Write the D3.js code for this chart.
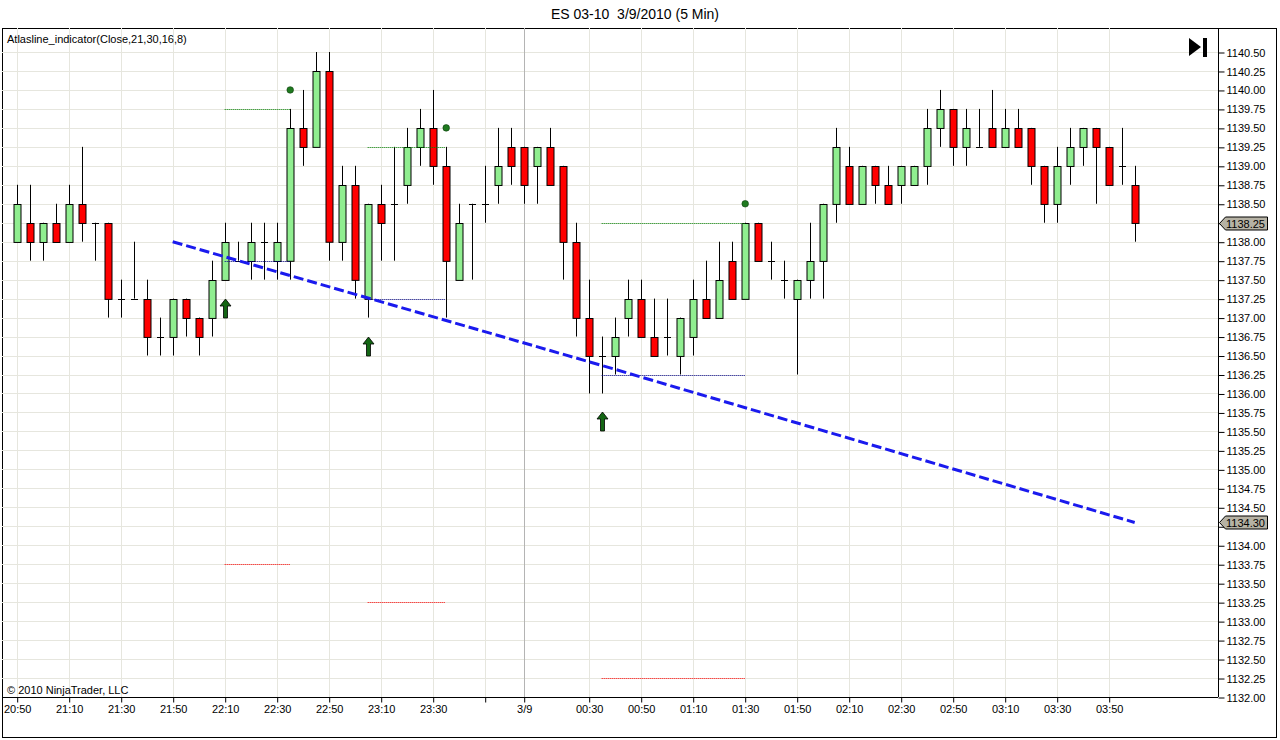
<!DOCTYPE html>
<html>
<head>
<meta charset="utf-8">
<script src="https://cdn.jsdelivr.net/npm/d3@7.9.0/dist/d3.min.js"></script>
<style>
  body { margin: 0; background: #fff; }
  svg { display: block; font-family: "Liberation Sans", Arial, sans-serif; }
  .tick text { font-size: 11px; fill: #000; }
</style>
</head>
<body>
<svg id="chart" width="1280" height="740"></svg>
<script>
// ES 03-10, 5 min bars from 3/8 20:50 to 3/9 04:00
const opens = [
  1138.00,1138.25,1138.00,1138.25,1138.00,1138.50,1138.25,1138.25,1137.25,1137.25,
  1137.25,1136.75,1136.75,1137.25,1137.00,1137.00,1137.50,1137.75,1137.75,1138.00,
  1137.75,1137.75,1139.50,1139.25,1140.25,1138.00,1138.75,1137.25,1138.50,1138.50,
  1138.75,1139.25,1139.50,1139.00,1137.50,1138.50,1138.50,1138.75,1139.25,1139.25,
  1139.00,1139.25,1139.00,1138.00,1137.00,1136.50,1136.50,1137.00,1137.25,1136.75,
  1136.75,1136.50,1136.75,1137.25,1137.00,1137.75,1137.25,1138.25,1137.75,1137.50,
  1137.25,1137.50,1137.75,1138.50,1139.00,1138.50,1139.00,1138.75,1138.75,1138.75,
  1139.00,1139.50,1139.75,1139.25,1139.25,1139.50,1139.25,1139.50,1139.50,1139.00,
  1138.50,1139.00,1139.25,1139.50,1139.25,1139.00,1138.75
];
const highs = [
  1138.75,1138.75,1138.25,1138.50,1138.75,1139.25,1138.25,1138.25,1137.50,1138.00,
  1137.50,1137.00,1137.25,1137.25,1137.00,1137.75,1138.25,1138.00,1138.25,1138.25,
  1138.25,1139.75,1140.00,1140.50,1140.50,1139.00,1139.00,1138.50,1138.75,1139.25,
  1139.50,1139.75,1140.00,1139.25,1138.50,1138.50,1139.00,1139.50,1139.50,1139.25,
  1139.25,1139.50,1139.00,1138.25,1137.50,1136.75,1137.00,1137.50,1137.50,1137.25,
  1137.25,1137.00,1137.50,1137.75,1138.00,1138.00,1138.25,1138.25,1138.00,1137.75,
  1137.50,1138.25,1138.50,1139.50,1139.25,1139.00,1139.00,1139.00,1139.00,1139.00,
  1139.75,1140.00,1139.75,1139.75,1139.75,1140.00,1139.75,1139.75,1139.50,1139.00,
  1139.25,1139.50,1139.50,1139.50,1139.25,1139.50,1139.00
];
const lows = [
  1138.00,1137.75,1137.75,1138.00,1138.00,1138.00,1137.75,1137.00,1137.00,1137.25,
  1136.50,1136.50,1136.50,1136.75,1136.50,1136.75,1137.50,1137.75,1137.50,1137.50,
  1137.50,1137.50,1139.00,1139.25,1137.75,1137.75,1137.25,1137.00,1137.75,1137.75,
  1138.50,1139.00,1138.75,1137.00,1137.50,1137.50,1138.25,1138.50,1138.75,1138.50,
  1138.50,1138.75,1137.50,1136.75,1136.00,1136.00,1136.25,1136.75,1136.75,1136.50,
  1136.50,1136.25,1136.50,1137.00,1137.00,1137.25,1137.25,1137.75,1137.50,1137.25,
  1136.25,1137.25,1137.25,1138.25,1138.50,1138.50,1138.50,1138.50,1138.50,1138.75,
  1138.75,1139.25,1139.00,1139.00,1139.25,1139.25,1139.25,1139.25,1138.75,1138.25,
  1138.25,1138.75,1139.00,1138.50,1138.75,1138.75,1138.00
];
const closes = [
  1138.50,1138.00,1138.25,1138.00,1138.50,1138.25,1138.25,1137.25,1137.25,1137.25,
  1136.75,1136.75,1137.25,1137.00,1136.75,1137.50,1138.00,1137.75,1138.00,1138.00,
  1138.00,1139.50,1139.25,1140.25,1138.00,1138.75,1137.50,1138.50,1138.25,1138.50,
  1139.25,1139.50,1139.00,1137.75,1138.25,1138.50,1138.50,1139.00,1139.00,1138.75,
  1139.25,1138.75,1138.00,1137.00,1136.50,1136.50,1136.75,1137.25,1136.75,1136.50,
  1136.75,1137.00,1137.25,1137.00,1137.50,1137.25,1138.25,1137.75,1137.75,1137.50,
  1137.50,1137.75,1138.50,1139.25,1138.50,1139.00,1138.75,1138.50,1139.00,1139.00,
  1139.50,1139.75,1139.25,1139.50,1139.25,1139.25,1139.50,1139.25,1139.00,1138.50,
  1139.00,1139.25,1139.50,1139.25,1138.75,1139.00,1138.25
];

// bar times (5 min)
const times = d3.timeMinute.every(5)
  .range(new Date(2010, 2, 8, 20, 50), new Date(2010, 2, 9, 4, 1))
  .map(d3.timeFormat("%H:%M"));

// x axis ticks
const tickTimes = ["20:50","21:10","21:30","21:50","22:10","22:30","22:50","23:10","23:30","23:50",
  "00:05","00:30","00:50","01:10","01:30","01:50","02:10","02:30","02:50","03:10","03:30","03:50"];
const tickLabels = ["20:50","21:10","21:30","21:50","22:10","22:30","22:50","23:10","23:30","",
  "3/9","00:30","00:50","01:10","01:30","01:50","02:10","02:30","02:50","03:10","03:30","03:50"];
const sessionBreak = "00:05";

// Atlasline indicator signals
const signalStart = ["22:10", "23:05", "00:35"];
const signalEnd = ["22:35", "23:35", "01:30"];
const upperLevels = [1139.75, 1139.25, 1138.25];
const midLevels = [1137.75, 1137.25, 1136.25];
const lowerLevels = [1133.75, 1133.25, 1132.25];
const arrowPrices = [1137.25, 1136.75, 1135.75];
const dotPrices = [1140.00, 1139.50, 1138.50];

// blue trend line
const trendTimes = ["21:50", "00:35", "04:00"];
const trendValues = [1138.00, 1136.37, 1134.30];

const bars = times.map((t, i) => ({ t, o: opens[i], h: highs[i], l: lows[i], c: closes[i] }));

const svg = d3.select("#chart");
const plotLeft = 2, plotRight = 1218, plotTop = 28, plotBottom = 697;

const x = d3.scalePoint().domain(times).range([16.7, 1134.7]);
const y = d3.scaleLinear().domain([1132, 1140.5]).range([plotBottom, 52]);
const yTicks = d3.range(0, 35).map(k => 1132 + k * 0.25);
const markers = [closes[closes.length - 1], trendValues[trendValues.length - 1]];

// frame
svg.append("rect").attr("x", 2.5).attr("y", 28.5).attr("width", 1274).attr("height", 709)
  .attr("fill", "#fff").attr("stroke", "#000");

// grid
svg.append("g").selectAll("line").data(yTicks).join("line")
  .attr("x1", plotLeft).attr("x2", plotRight)
  .attr("y1", d => Math.round(y(d)) + 0.5).attr("y2", d => Math.round(y(d)) + 0.5)
  .attr("stroke", "#e6e6de");
svg.append("g").selectAll("line").data(tickTimes).join("line")
  .attr("x1", d => Math.round(x(d)) + 0.5).attr("x2", d => Math.round(x(d)) + 0.5)
  .attr("y1", plotTop).attr("y2", plotBottom)
  .attr("stroke", d => d === sessionBreak ? "#b4b4b4" : "#e6e6de");

// candles
const candles = svg.append("g").selectAll("g").data(bars).join("g")
  .attr("transform", d => `translate(${Math.round(x(d.t)) + 0.5},0)`);
candles.append("line")
  .attr("y1", d => y(d.h)).attr("y2", d => y(d.l))
  .attr("stroke", "#000");
candles.filter(d => d.o !== d.c).append("rect")
  .attr("x", -3.5).attr("width", 7)
  .attr("y", d => Math.round(y(Math.max(d.o, d.c))) + 0.5)
  .attr("height", d => Math.abs(y(d.o) - y(d.c)))
  .attr("fill", d => d.c > d.o ? "#90ee90" : "#ff0000")
  .attr("stroke", "#000");
candles.filter(d => d.o === d.c).append("line")
  .attr("x1", -3.5).attr("x2", 3.5)
  .attr("y1", d => Math.round(y(d.c)) + 0.5).attr("y2", d => Math.round(y(d.c)) + 0.5)
  .attr("stroke", "#000");

// signal level lines
const levels = [
  { vals: upperLevels, color: "#008000" },
  { vals: midLevels, color: "#00008b" },
  { vals: lowerLevels, color: "#ff0000" }
];
levels.forEach(lv => {
  svg.append("g").selectAll("line").data(lv.vals).join("line")
    .attr("x1", (d, i) => x(signalStart[i])).attr("x2", (d, i) => x(signalEnd[i]))
    .attr("y1", d => Math.round(y(d)) + 0.5).attr("y2", d => Math.round(y(d)) + 0.5)
    .attr("stroke", lv.color).attr("stroke-dasharray", "1,1");
});

// trend line
svg.append("path")
  .datum(trendTimes.map((t, i) => [x(t), y(trendValues[i])]))
  .attr("d", d3.line())
  .attr("fill", "none").attr("stroke", "#1a1aee").attr("stroke-width", 3)
  .attr("stroke-dasharray", "10,4");

// arrows
svg.append("g").selectAll("path").data(arrowPrices).join("path")
  .attr("transform", (d, i) => `translate(${Math.round(x(signalStart[i])) + 0.5},${Math.round(y(d))})`)
  .attr("d", "M0,0 L5.5,7 L2,7 L2,19 L-2,19 L-2,7 L-5.5,7 Z")
  .attr("fill", "#146614").attr("stroke", "#000").attr("stroke-width", 0.8);

// dots
svg.append("g").selectAll("circle").data(dotPrices).join("circle")
  .attr("cx", (d, i) => x(signalEnd[i]) + 0.5).attr("cy", d => y(d))
  .attr("r", 3.3).attr("fill", "#1f7a1f").attr("stroke", "#0b3d0b").attr("stroke-width", 0.6);

// axes
const yAxis = svg.append("g").attr("transform", `translate(${plotRight + 0.5},0.5)`)
  .call(d3.axisRight(y).tickValues(yTicks).tickFormat(d3.format(".2f")).tickSize(6).tickPadding(2));
yAxis.select(".domain").remove();
// labels sitting under a price marker are covered by it
yAxis.selectAll(".tick text")
  .filter(d => markers.some(m => Math.abs(y(m) - y(d)) < 10))
  .remove();
const xAxis = svg.append("g").attr("transform", `translate(0.5,${plotBottom + 0.5})`)
  .call(d3.axisBottom(x).tickValues(tickTimes).tickFormat((d, i) => tickLabels[i]).tickSize(5).tickPadding(3));
xAxis.select(".domain").remove();
svg.append("line").attr("x1", plotLeft).attr("x2", plotRight)
  .attr("y1", plotBottom + 0.5).attr("y2", plotBottom + 0.5).attr("stroke", "#000");
svg.append("line").attr("x1", plotRight + 0.5).attr("x2", plotRight + 0.5)
  .attr("y1", plotTop).attr("y2", plotBottom).attr("stroke", "#000");

// price markers
const mk = svg.append("g").selectAll("g").data(markers).join("g")
  .attr("transform", d => `translate(0,${Math.round(y(d)) + 0.5})`);
mk.append("path")
  .attr("d", "M1219.5,0 L1225.5,-6.5 L1267.5,-6.5 L1267.5,6.5 L1225.5,6.5 Z")
  .attr("fill", "#b6b2a4").attr("stroke", "#000");
mk.append("text").attr("x", 1226).attr("y", 4).attr("font-size", 11)
  .text(d => d3.format(".2f")(d));

// texts
svg.append("text").attr("x", 635).attr("y", 19).attr("text-anchor", "middle")
  .attr("font-size", 14).text("ES 03-10  3/9/2010 (5 Min)").style("white-space", "pre");
svg.append("text").attr("x", 7).attr("y", 43).attr("font-size", 11)
  .text("Atlasline_indicator(Close,21,30,16,8)");
svg.append("text").attr("x", 7).attr("y", 694).attr("font-size", 11)
  .text("\u00a9 2010 NinjaTrader, LLC");

// go-to-end icon
svg.append("path").attr("d", "M1189,38 L1201,47 L1189,56 Z").attr("fill", "#000");
svg.append("rect").attr("x", 1203).attr("y", 38).attr("width", 4).attr("height", 19).attr("fill", "#000");
</script>
</body>
</html>
